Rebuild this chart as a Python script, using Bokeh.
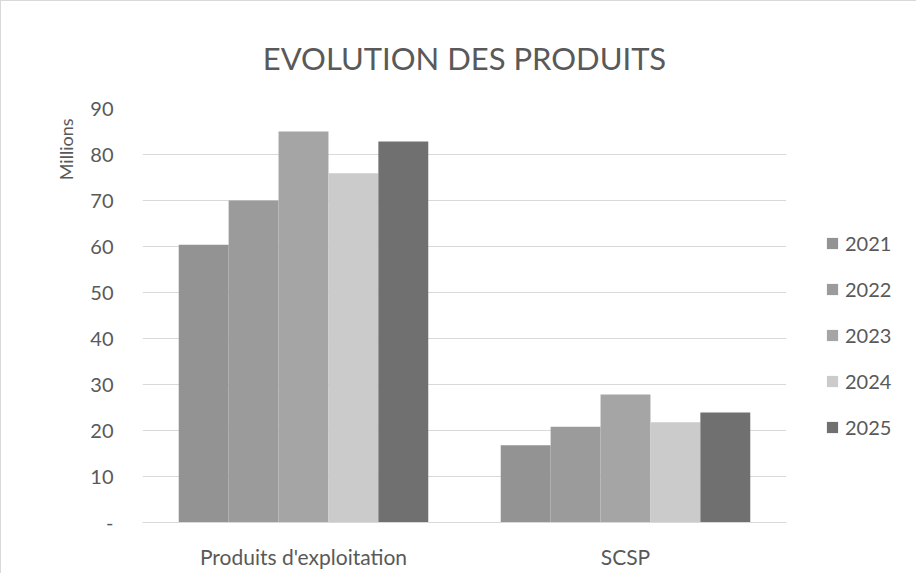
from bokeh.plotting import figure
from bokeh.models import ColumnDataSource, FactorRange, FixedTicker, Legend, LegendItem, Title
from bokeh.transform import dodge
from bokeh.embed import file_html
from bokeh.resources import INLINE

categories = ["Produits d'exploitation", "SCSP"]
years = ["2021", "2022", "2023", "2024", "2025"]
v2021 = [60.4, 16.8]
v2022 = [70.0, 20.8]
v2023 = [85.0, 27.8]
v2024 = [75.9, 21.8]
v2025 = [82.8, 23.9]
colors = ["#939393", "#9b9b9b", "#a5a5a5", "#cbcbcb", "#707070"]
y_ticks = [0, 10, 20, 30, 40, 50, 60, 70, 80, 90]

src = ColumnDataSource(dict(cat=categories, y2021=v2021, y2022=v2022, y2023=v2023,
                            y2024=v2024, y2025=v2025))

FONT = "Lato"
TXT = "#595959"
GRID = "#d9d9d9"
FS = "20px"

p = figure(x_range=FactorRange(factors=categories, range_padding=0), y_range=(0, 90),
           frame_width=644, frame_height=414, min_border_left=141, min_border_right=122,
           min_border_top=107, min_border_bottom=51,
           output_backend="svg", toolbar_location=None, title="EVOLUTION DES PRODUITS")

p.styles = {"border-left": "1px solid #d9d9d9", "border-top": "1px solid #d9d9d9"}

bw = 0.155
offsets = [-2 * bw, -bw, 0, bw, 2 * bw]
renderers = []
for yr, off, col in zip(years, offsets, colors):
    r = p.vbar(x=dodge("cat", off, range=p.x_range), top="y" + yr, width=bw, source=src,
               fill_color=col, line_color=None)
    renderers.append(r)

p.title.text_font = FONT
p.title.text_font_size = "31px"
p.title.text_font_style = "normal"
p.title.text_color = TXT
p.title.align = "center"
p.title.standoff = 63

p.outline_line_color = None
p.xgrid.grid_line_color = None
p.ygrid.grid_line_color = GRID
p.ygrid.grid_line_width = 1

p.yaxis.ticker = FixedTicker(ticks=y_ticks)
p.yaxis.major_label_overrides = {0: "-"}
p.yaxis.axis_line_color = None
p.yaxis.major_tick_line_color = None
p.yaxis.major_tick_out = 0
p.yaxis.minor_tick_line_color = None
p.yaxis.major_label_text_font = FONT
p.yaxis.major_label_text_font_size = FS
p.yaxis.major_label_text_color = TXT
p.yaxis.major_label_standoff = 29

p.xaxis.axis_line_color = GRID
p.xaxis.major_tick_line_color = None
p.xaxis.major_tick_out = 0
p.xaxis.minor_tick_line_color = None
p.xaxis.major_label_text_font = FONT
p.xaxis.major_label_text_font_size = "21px"
p.xaxis.major_label_text_color = TXT
p.xaxis.major_label_standoff = 21

ylab = Title(text="Millions", align="right", offset=10, standoff=21,
             text_font=FONT, text_font_size="18px", text_font_style="normal", text_color=TXT)
p.add_layout(ylab, "left")

legend = Legend(items=[LegendItem(label=yr, renderers=[r]) for yr, r in zip(years, renderers)],
                location=(39, 83), padding=0, margin=0, spacing=22,
                glyph_width=14, glyph_height=14, label_height=20, label_standoff=6,
                label_text_font=FONT, label_text_font_size=FS, label_text_color=TXT,
                border_line_color=None, background_fill_alpha=0)
p.add_layout(legend, "right")

open("out.html", "w").write(file_html(p, INLINE))
